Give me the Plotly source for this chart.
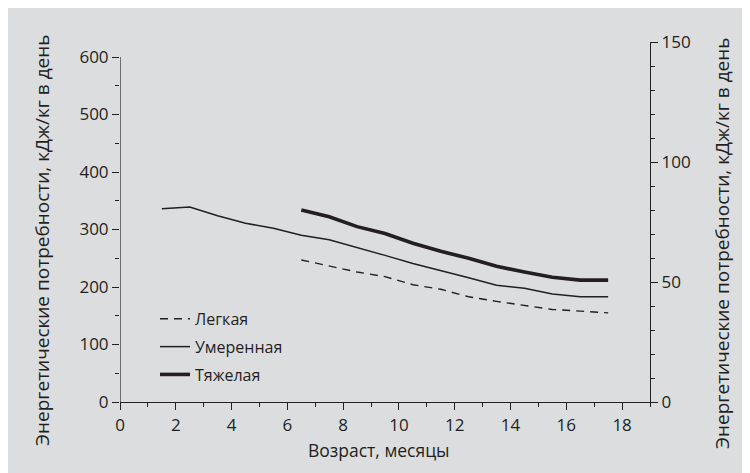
import plotly.graph_objects as go

# Data
age_moderate = [1.5, 2.5, 3.5, 4.5, 5.5, 6.5, 7.5, 8.5, 9.5, 10.5, 11.5, 12.5, 13.5, 14.5, 15.5, 16.5, 17.5]
moderate = [336, 339, 324, 311, 302, 290, 282, 269, 255, 241, 229, 216, 203, 198, 188, 183, 183]
age_other = [6.5, 7.5, 8.5, 9.5, 10.5, 11.5, 12.5, 13.5, 14.5, 15.5, 16.5, 17.5]
heavy = [334, 322, 305, 293, 276, 262, 250, 236, 226, 217, 212, 212]
light = [247, 236, 226, 218, 204, 196, 183, 175, 168, 161, 158, 155]

series_names = ["Легкая", "Умеренная", "Тяжелая"]
x_title = "Возраст, месяцы"
y_title = "Энергетические потребности, кДж/кг в день"

INK = "#231f20"
BG = "#dcdddf"
FONT = "Open Sans"

fig = go.Figure()
fig.add_trace(go.Scatter(x=age_other, y=light, mode="lines", name=series_names[0],
                         line=dict(color=INK, width=1.4, dash="8px,6px"), legendgroup="a"))
fig.add_trace(go.Scatter(x=age_moderate, y=moderate, mode="lines", name=series_names[1],
                         line=dict(color=INK, width=1.5), legendgroup="b"))
fig.add_trace(go.Scatter(x=age_other, y=heavy, mode="lines", name=series_names[2],
                         line=dict(color=INK, width=3.6), legendgroup="c"))
# invisible trace to activate right axis
fig.add_trace(go.Scatter(x=[None], y=[None], yaxis="y2", showlegend=False, hoverinfo="skip"))

fig.update_layout(
    width=750, height=473,
    margin=dict(l=112, r=108, t=34, b=79),
    paper_bgcolor=BG, plot_bgcolor=BG,
    font=dict(family=FONT, size=16, color=INK),
    showlegend=True,
    legend=dict(x=0.066, y=0.278, xanchor="left", yanchor="top", bgcolor="rgba(0,0,0,0)",
                font=dict(size=16, color=INK), tracegroupgap=4),
    xaxis=dict(range=[0, 19], tickmode="linear", tick0=0, dtick=2, showgrid=False, zeroline=False,
               showline=True, linecolor=INK, linewidth=1.2, ticks="outside", ticklen=7, tickwidth=1.2,
               tickcolor=INK,
               minor=dict(tickmode="linear", tick0=0, dtick=1, ticks="outside", ticklen=4, tickcolor=INK, tickwidth=1),
               tickfont=dict(size=17)),
    yaxis=dict(range=[0, 626.1], tickmode="linear", tick0=0, dtick=100, showgrid=False, zeroline=False,
               showline=False, ticks="outside", ticklen=7, tickwidth=1.2, tickcolor=INK,
               minor=dict(tickmode="linear", tick0=0, dtick=50, ticks="outside", ticklen=4, tickcolor=INK, tickwidth=1),
               tickfont=dict(size=17)),
    yaxis2=dict(range=[0, 150], overlaying="y", side="right", tickmode="linear", tick0=0, dtick=50,
                showgrid=False, zeroline=False, showline=True, linecolor=INK, linewidth=1.2,
                ticks="outside", ticklen=7, tickwidth=1.2, tickcolor=INK,
                minor=dict(tickmode="linear", tick0=0, dtick=10, ticks="outside", ticklen=4, tickcolor=INK, tickwidth=1),
                tickfont=dict(size=17)),
    shapes=[
        # left axis line from 0 to 600
        dict(type="line", xref="x", yref="y", x0=0, x1=0, y0=0, y1=600, line=dict(color=INK, width=1.2)),
    ],
    annotations=[
        dict(text=y_title, xref="paper", yref="paper", x=(42 - 120) / 530, y=(402 - 240) / 360,
             textangle=-90, showarrow=False, font=dict(size=19, color=INK), xanchor="center", yanchor="middle"),
        dict(text=y_title, xref="paper", yref="paper", x=(722 - 120) / 530, y=(402 - 243) / 360,
             textangle=-90, showarrow=False, font=dict(size=19, color=INK), xanchor="center", yanchor="middle"),
        dict(text=x_title, xref="paper", yref="paper", x=(379 - 120) / 530, y=(402 - 450) / 360,
             showarrow=False, font=dict(size=17.5, color=INK), xanchor="center", yanchor="middle"),
    ],
)

fig.write_html("out.html")
